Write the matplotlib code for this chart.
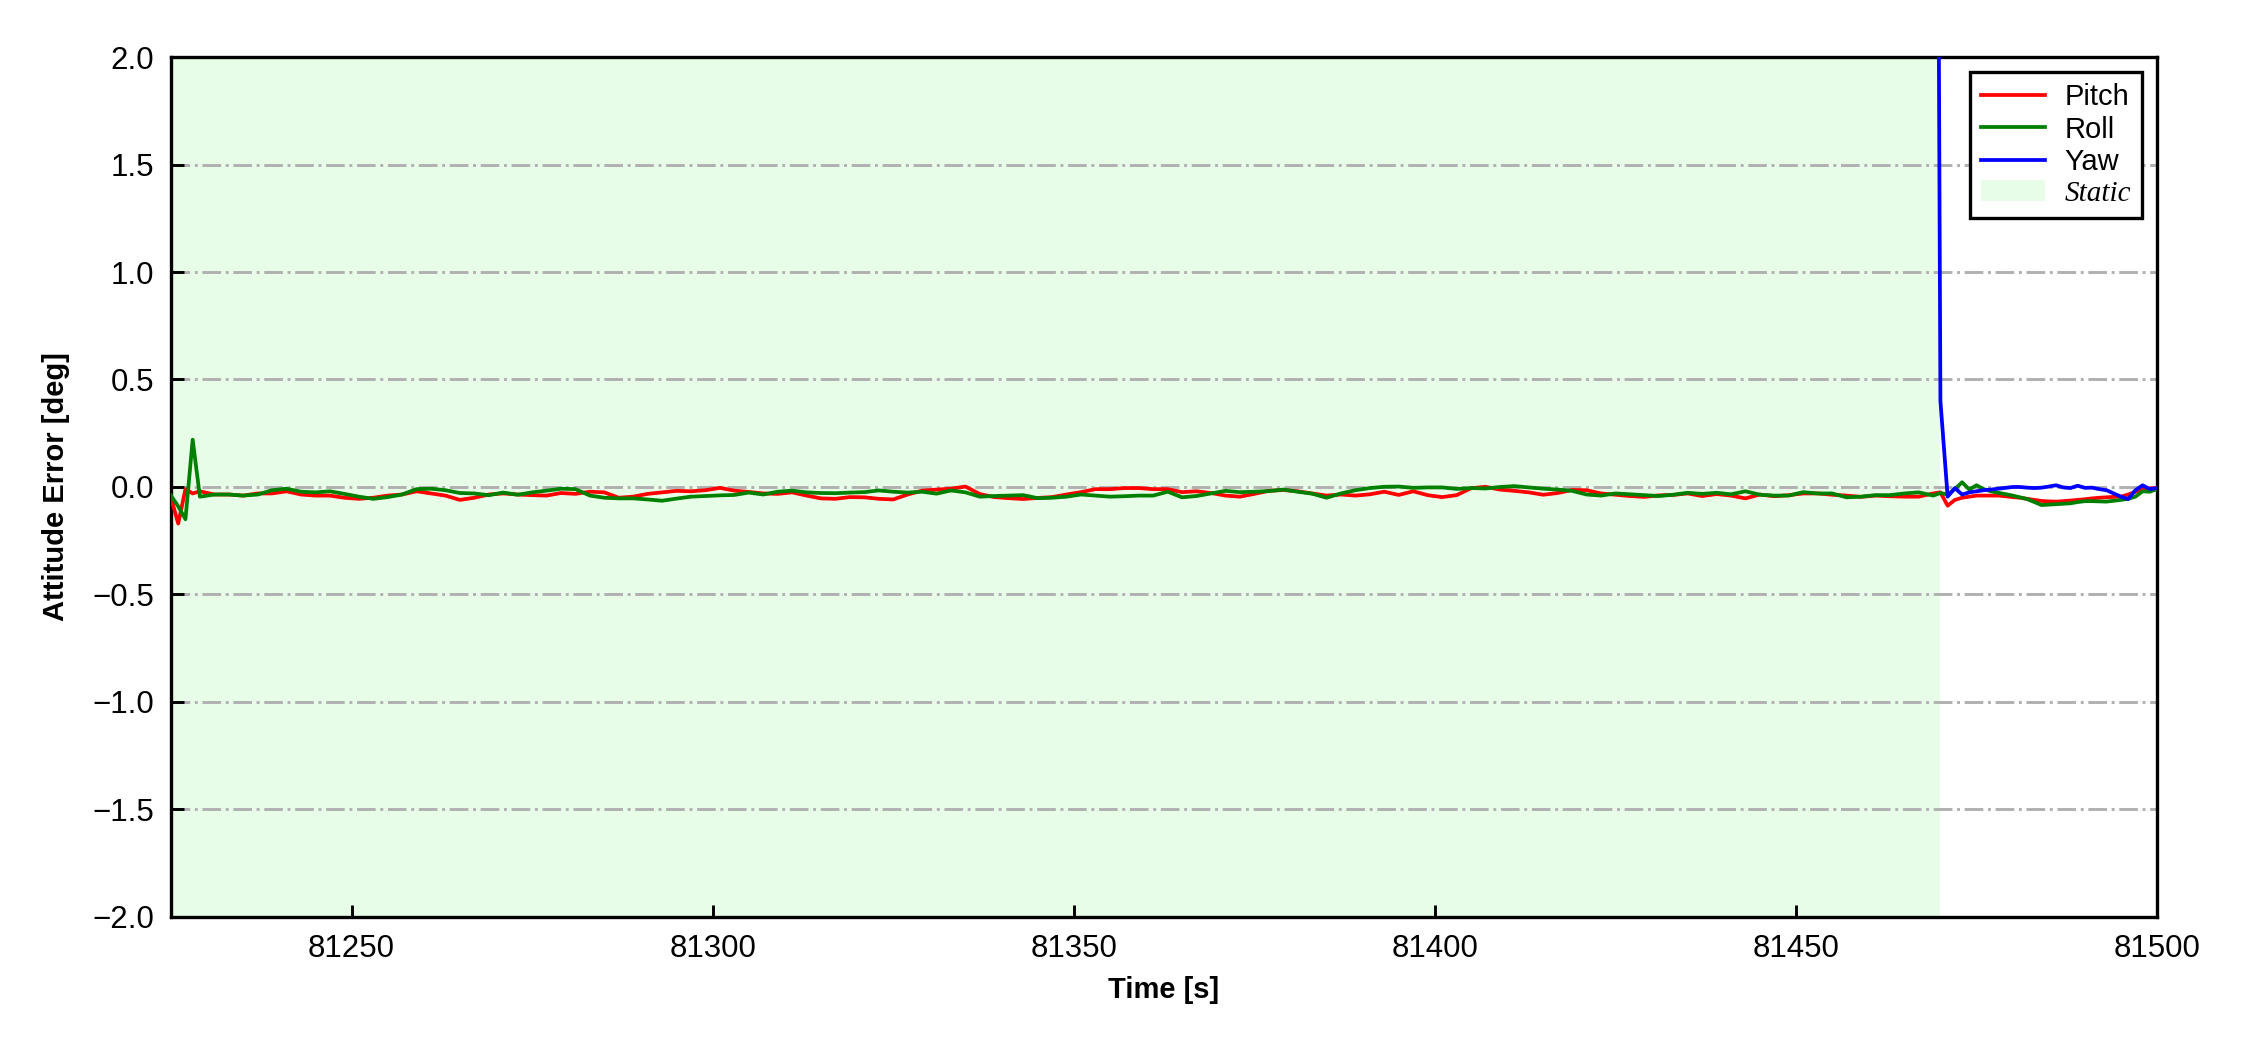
import numpy as np
import matplotlib
matplotlib.use("Agg")
import matplotlib.pyplot as plt
from matplotlib.patches import Patch

plt.rcParams['font.family'] = ['Liberation Sans', 'DejaVu Sans']

# ---- data ----
time = np.concatenate([np.arange(81225, 81229), np.arange(81229, 81470, 2), np.arange(81470, 81501)])

pitch = [
    -0.05, -0.17, -0.01, -0.03,
    # 81229 .. 81469 step 2
    -0.02, -0.035, -0.035, -0.04, -0.03, -0.03, -0.02, -0.035, -0.04, -0.04,
    -0.05, -0.055, -0.05, -0.04, -0.035, -0.02, -0.03, -0.04, -0.06, -0.05,
    -0.035, -0.03, -0.035, -0.038, -0.04, -0.028, -0.032, -0.022, -0.025, -0.05,
    -0.045, -0.032, -0.025, -0.018, -0.02, -0.015, -0.004, -0.017, -0.023, -0.03,
    -0.032, -0.025, -0.04, -0.053, -0.055, -0.047, -0.048, -0.055, -0.058, -0.035,
    -0.017, -0.012, -0.008, 0.002, -0.033, -0.047, -0.052, -0.056, -0.051, -0.047,
    -0.035, -0.024, -0.01, -0.01, -0.005, -0.005, -0.01, -0.01, -0.024, -0.02,
    -0.028, -0.04, -0.045, -0.032, -0.018, -0.014, -0.02, -0.03, -0.04, -0.035,
    -0.04, -0.034, -0.022, -0.037, -0.02, -0.038, -0.047, -0.038, -0.006, 0.001,
    -0.012, -0.018, -0.025, -0.036, -0.028, -0.014, -0.015, -0.03, -0.036, -0.042,
    -0.046, -0.039, -0.037, -0.03, -0.042, -0.033, -0.04, -0.053, -0.035, -0.043,
    -0.038, -0.03, -0.03, -0.036, -0.04, -0.046, -0.04, -0.043, -0.045, -0.045,
    -0.03,
    # 81470 .. 81500 step 1
    -0.025, -0.087, -0.06, -0.05, -0.045, -0.04, -0.04, -0.04, -0.04, -0.043,
    -0.047, -0.05, -0.055, -0.06, -0.065, -0.067, -0.068, -0.066, -0.063, -0.06,
    -0.057, -0.053, -0.05, -0.048, -0.046, -0.045, -0.035, -0.022, -0.01, -0.006,
    -0.006,
]

roll = [
    -0.04, -0.09, -0.15, 0.22,
    # 81229 .. 81469 step 2
    -0.045, -0.035, -0.035, -0.04, -0.035, -0.015, -0.008, -0.022, -0.025, -0.02,
    -0.032, -0.045, -0.055, -0.047, -0.035, -0.01, -0.008, -0.015, -0.028, -0.03,
    -0.038, -0.026, -0.036, -0.025, -0.017, -0.008, -0.01, -0.04, -0.05, -0.053,
    -0.053, -0.058, -0.064, -0.054, -0.045, -0.042, -0.039, -0.037, -0.026, -0.035,
    -0.022, -0.017, -0.025, -0.028, -0.029, -0.026, -0.024, -0.016, -0.022, -0.026,
    -0.022, -0.031, -0.016, -0.025, -0.045, -0.042, -0.04, -0.038, -0.052, -0.05,
    -0.045, -0.035, -0.04, -0.045, -0.043, -0.04, -0.04, -0.022, -0.048, -0.042,
    -0.03, -0.018, -0.024, -0.022, -0.019, -0.012, -0.022, -0.031, -0.05, -0.03,
    -0.015, -0.005, 0.001, 0.002, -0.004, -0.002, -0.002, -0.009, -0.005, -0.007,
    0.0, 0.004, -0.002, -0.008, -0.012, -0.018, -0.035, -0.04, -0.03, -0.034,
    -0.038, -0.042, -0.036, -0.027, -0.032, -0.027, -0.034, -0.02, -0.036, -0.04,
    -0.04, -0.024, -0.03, -0.03, -0.048, -0.045, -0.038, -0.038, -0.03, -0.025,
    -0.04,
    # 81470 .. 81500 step 1
    -0.028, -0.035, -0.01, 0.022, -0.012, 0.008, -0.01, -0.02, -0.027, -0.033,
    -0.04, -0.048, -0.056, -0.07, -0.084, -0.082, -0.08, -0.078, -0.076, -0.07,
    -0.066, -0.066, -0.067, -0.068, -0.064, -0.06, -0.055, -0.045, -0.02, -0.022,
    -0.009,
]

yaw_time = np.arange(81469, 81501)
yaw = [
    8.0, 0.4, -0.045, -0.005, -0.035, -0.025, -0.02, -0.015, -0.012, -0.008,
    -0.004, 0.0, 0.0, -0.003, -0.005, -0.003, 0.002, 0.008, -0.002, -0.005,
    0.006, -0.004, -0.003, -0.01, -0.015, -0.03, -0.045, -0.056, -0.015, 0.008,
    -0.01, -0.005,
]

static_start, static_end = 81225, 81470
xticks = [81250, 81300, 81350, 81400, 81450, 81500]
yticks = [-2.0, -1.5, -1.0, -0.5, 0.0, 0.5, 1.0, 1.5, 2.0]

# ---- plot ----
fig = plt.figure(figsize=(7.5, 3.5), dpi=300)
ax = fig.add_axes([0.076, 0.1267, 0.8827, 0.819])

static_color = '#e8fde8'
ax.axvspan(static_start, static_end, color=static_color, lw=0, zorder=0)
ax.plot(time, pitch, color='red', lw=0.9, label='Pitch', zorder=3)
ax.plot(time, roll, color='green', lw=0.9, label='Roll', zorder=3)
ax.plot(yaw_time, yaw, color='blue', lw=0.9, label='Yaw', zorder=3)

ax.set_xlim(81225, 81500)
ax.set_ylim(-2.0, 2.0)
ax.set_xticks(xticks)
ax.set_yticks(yticks)
ax.yaxis.grid(True, linestyle='-.', color='#b0b0b0', lw=0.7)
ax.set_axisbelow(True)

ax.tick_params(direction='in', length=3, width=0.7, labelsize=7.5, pad=4)
for s in ax.spines.values():
    s.set_linewidth(0.8)

ax.set_xlabel('Time [s]', fontsize=7, fontweight='bold', labelpad=3)
ax.set_ylabel('Attitude Error [deg]', fontsize=7, fontweight='bold', labelpad=5.5)

handles, labels = ax.get_legend_handles_labels()
handles.append(Patch(facecolor=static_color, edgecolor='none'))
labels.append('Static')
leg = ax.legend(handles, labels, loc='upper right', fontsize=7, frameon=True,
                fancybox=False, edgecolor='black', framealpha=1,
                handlelength=2.2, handletextpad=0.65, labelspacing=0.15,
                borderpad=0.4, borderaxespad=0.5)
leg.get_frame().set_linewidth(0.8)
for t in leg.get_texts():
    if t.get_text() == 'Static':
        t.set_fontfamily(['Liberation Serif', 'DejaVu Serif'])
        t.set_fontstyle('italic')

fig.savefig('out.png', dpi=300)
